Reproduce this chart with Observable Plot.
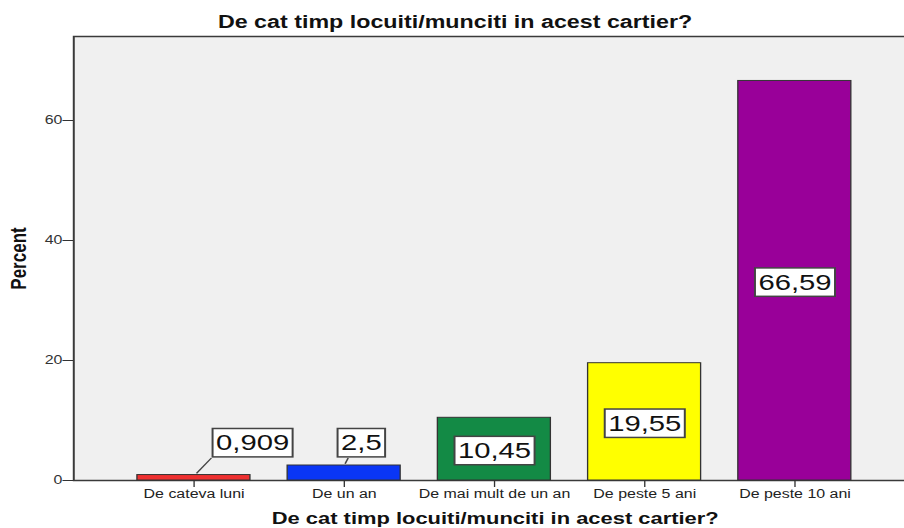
<!DOCTYPE html>
<html><head><meta charset="utf-8">
<script src="https://cdn.jsdelivr.net/npm/d3@7"></script>
<script src="https://cdn.jsdelivr.net/npm/@observablehq/plot@0.6"></script>
<style>
html,body{margin:0;padding:0;background:#fff;}
#chart{width:904px;height:528px;overflow:hidden;position:relative;}
#chart svg{transform:scaleX(1.329412);transform-origin:0 0;max-width:none;display:block;}
</style></head><body><div id="chart"></div>
<script>
// ---- data ----
const title = "De cat timp locuiti/munciti in acest cartier?";
const xTitle = "De cat timp locuiti/munciti in acest cartier?";
const yTitle = "Percent";
const categories = ["De cateva luni", "De un an", "De mai mult de un an", "De peste 5 ani", "De peste 10 ani"];
const percents = [0.909, 2.5, 10.45, 19.55, 66.59];
const valueLabels = ["0,909", "2,5", "10,45", "19,55", "66,59"];
const yTicks = [0, 20, 40, 60];

// ---- styles / layout ----
const barColors = ["#ee3030", "#0a36f5", "#138a45", "#ffff00", "#990099"];
const W = 680, H = 528;
const fontFamily = "'Liberation Sans', Arial, Helvetica, sans-serif";
const outsideY = 6.2;          // label y (data units) for bars too short to hold it
const outsideDx = [44, 12.8];  // horizontal shift of those labels
const leaderStart = [2.3, 1.1];
const leaderEnd = [13.5, 3.4];
const leaderEndY = 3.67;

const data = categories.map((c, i) => ({category: c, value: percents[i], label: valueLabels[i]}));

let k = 0;
const labelMarks = data.map((d) => {
  const inside = d.value > 6;
  const dx = inside ? 0 : outsideDx[k++];
  return Plot.text([d], {
    x: "category",
    y: (e) => inside ? e.value / 2 : outsideY,
    text: "label",
    dx, dy: inside ? 2 : 0,
    fontSize: 22, fill: "#111"
  });
});

const chart = Plot.plot({
  width: W, height: H,
  marginTop: 36, marginBottom: 48, marginLeft: 55, marginRight: 0,
  style: {fontFamily, background: "transparent", color: "#222"},
  x: {domain: categories, range: [86.9, 655.6], paddingInner: 0.245, paddingOuter: 0.1225, align: 0.5},
  y: {domain: [0, 74]},
  color: {domain: categories, range: barColors},
  marks: [
    Plot.frame({fill: "#f0f0f0", stroke: "#3a3a3a", strokeWidth: 1.5, insetRight: -6}),
    Plot.barY(data, {x: "category", y: "value", fill: "category", stroke: "#333", strokeWidth: 1}),
    Plot.axisY(yTicks, {tickSize: 8, tickPadding: 0.5, fontSize: 12, label: null, stroke: "#333", fill: "#333"}),
    Plot.axisX({tickSize: 7, tickPadding: 2, fontSize: 12, label: null, stroke: "#333", fill: "#222"}),
    Plot.text([title], {frameAnchor: "top", dy: -21, dx: -25.7, lineAnchor: "top", textAnchor: "middle", fontSize: 17.5, fontWeight: "bold", fill: "#111"}),
    Plot.text([xTitle], {frameAnchor: "bottom", dy: 32, dx: 4.5, lineAnchor: "top", textAnchor: "middle", fontSize: 16.5, fontWeight: "bold", fill: "#111"}),
    Plot.text([yTitle], {frameAnchor: "left", dx: -41.5, rotate: -90, textAnchor: "middle", fontSize: 17, fontWeight: "bold", fill: "#111"}),
    ...labelMarks
  ]
});
document.getElementById("chart").appendChild(chart);

// ---- boxes around value labels and leader lines ----
const NS = "http://www.w3.org/2000/svg";
const labelSet = new Set(valueLabels);
const labelTexts = Array.from(chart.querySelectorAll("text")).filter((t) => labelSet.has(t.textContent.trim()));
labelTexts.forEach((t) => {
  const b = t.getBBox();
  const r = document.createElementNS(NS, "rect");
  r.setAttribute("x", b.x - 2.6);
  r.setAttribute("y", b.y + 0.5 - 2.8);
  r.setAttribute("width", b.width + 5.2);
  r.setAttribute("height", b.height - 1 + 5.6);
  r.setAttribute("fill", "#fff");
  r.setAttribute("stroke", "#444");
  r.setAttribute("stroke-width", "1.5");
  const tr = t.getAttribute("transform");
  if (tr) r.setAttribute("transform", tr);
  t.parentNode.insertBefore(r, t);
});

const xs = chart.scale("x"), ys = chart.scale("y");
const firstLabelGroup = labelTexts.length ? labelTexts[0].parentNode : null;
let j = 0;
data.forEach((d) => {
  if (d.value > 6) return;
  const c = xs.apply(d.category) + xs.bandwidth / 2;
  const l = document.createElementNS(NS, "line");
  l.setAttribute("x1", c + leaderStart[j]);
  l.setAttribute("y1", ys.apply(d.value) - 1.2);
  l.setAttribute("x2", c + leaderEnd[j]);
  l.setAttribute("y2", ys.apply(leaderEndY));
  l.setAttribute("stroke", "#444");
  l.setAttribute("stroke-width", "1.2");
  if (firstLabelGroup && firstLabelGroup.parentNode === chart) chart.insertBefore(l, firstLabelGroup);
  else chart.appendChild(l);
  j++;
});
</script></body></html>
